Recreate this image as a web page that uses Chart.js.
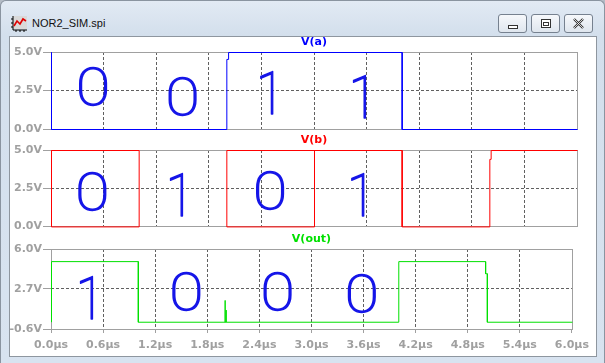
<!DOCTYPE html>
<html>
<head>
<meta charset="utf-8">
<title>NOR2_SIM.spi</title>
<script src="https://cdn.jsdelivr.net/npm/chart.js@4.4.1/dist/chart.umd.min.js"></script>
<style>
html, body { margin: 0; padding: 0; }
body { width: 605px; height: 363px; overflow: hidden; position: relative; background: #b4bcc6; }
#win { position: absolute; left: 0; top: 0; width: 603px; height: 363px; border: 1px solid #8a94a0; border-bottom: none;
       border-radius: 6px 6px 0 0; background: linear-gradient(#e2eaf4 0, #d3dfec 34px, #d8e3f0 100%); }
#icon { position: absolute; left: 10px; top: 14px; }
#caption { position: absolute; left: 31px; top: 16px; font: 11px "Liberation Sans", Arial, sans-serif; color: #111; }
.btn { position: absolute; top: 13px; width: 27px; height: 17px; border: 1px solid #76818f; border-radius: 3px;
       background: linear-gradient(#f6f8fb, #dfe6ee); }
.btn svg { position: absolute; left: 0; top: 0; }
#client { position: absolute; left: 8px; top: 35px; width: 586px; height: 319px; border: 1px solid #8e969f; background: #fff; }
canvas { position: absolute; left: 10px; }
</style>
</head>
<body>
<div id="win">
  <svg id="icon" width="17" height="17" viewBox="0 0 17 17">
    <rect x="2" y="1" width="14" height="13" fill="#d9d9d9"/>
    <path d="M2 1 V15 H16" stroke="#000" stroke-width="1" fill="none"/>
    <path d="M0 4 H2 M0 8 H2 M0 12 H2 M5 15 V17 M9 15 V17 M13 15 V17" stroke="#000" stroke-width="1"/>
    <path d="M3 11 L6 6 L9 9 L12 4 L15 6" stroke="#e00000" stroke-width="1.6" fill="none"/>
  </svg>
  <div id="caption">NOR2_SIM.spi</div>
  <div class="btn" style="left:497px"><svg width="27" height="17"><rect x="9.5" y="10.5" width="9" height="3" fill="#fff" stroke="#333"/></svg></div>
  <div class="btn" style="left:530px"><svg width="27" height="17"><rect x="9.5" y="4.5" width="9" height="8" fill="#fff" stroke="#333"/><rect x="11.5" y="7.5" width="5" height="3" fill="#fff" stroke="#333"/></svg></div>
  <div class="btn" style="left:563px"><svg width="27" height="17"><path d="M9 4 L18 13 M18 4 L9 13" stroke="#333" stroke-width="2.4"/><path d="M9 4 L18 13 M18 4 L9 13" stroke="#fff" stroke-width="0.8"/></svg></div>
  <div id="client"></div>
</div>
<canvas id="paneA" width="585" height="101" style="top:36px"></canvas>
<canvas id="paneB" width="585" height="104" style="top:130px"></canvas>
<canvas id="paneOut" width="585" height="129" style="top:226px"></canvas>
<script>
// eixo do tempo (µs)
const timeTicks = [0, 0.6, 1.2, 1.8, 2.4, 3.0, 3.6, 4.2, 4.8, 5.4, 6.0];
const timeLabels = ['0.0µs', '0.6µs', '1.2µs', '1.8µs', '2.4µs', '3.0µs', '3.6µs', '4.2µs', '4.8µs', '5.4µs', '6.0µs'];

// eixos de tensão
const inTicks = [0, 2.5, 5.0];
const inLabels = ['0.0V', '2.5V', '5.0V'];
const outTicks = [-0.6, 2.7, 6.0];
const outLabels = ['-0.6V', '2.7V', '6.0V'];

// V(a)
const aTime = [0, 0, 2.0, 2.0, 2.02, 2.02, 4.0, 4.0, 6.0];
const aVolts = [5, 0, 0, 4.55, 4.55, 5, 5, 0, 0];

// V(b) - traço como aparece na tela
const bTime = [1.0, 0, 0, 1.0, 1.0, 2.0, 3.0, 3.0, 2.0, 2.0, 4.0, 4.0, 5.0, 5.0, 5.015, 5.015, 6.0];
const bVolts = [5, 5, 0, 0, 5, null, 5, 0, 0, 5, 5, 0, 0, 4.42, 4.42, 5, 5];

// V(out)
const outTime = [0, 0, 1.0, 1.0, 2.0, 2.0, 2.0, 2.012, 2.012, 2.012, 4.0, 4.0, 5.0, 5.0, 5.02, 5.02, 6.0];
const outVolts = [0, 5, 5, 0, 0, 1.8, 0, 0, 1.0, 0, 0, 5, 5, 4.0, 4.0, 0, 0];

// anotações à mão (dígitos lógicos)
const aNotes = ['0', '0', '1', '1'];
const aNoteTime = [0.48, 1.5, 2.5, 3.56];
const aNoteVolts = [2.73, 2.08, 2.34, 2.08];
const bNotes = ['0', '1', '0', '1'];
const bNoteTime = [0.47, 1.47, 2.5, 3.54];
const bNoteVolts = [2.27, 2.08, 2.34, 2.08];
const outNotes = ['1', '0', '0', '0'];
const outNoteTime = [0.45, 1.56, 2.61, 3.58];
const outNoteVolts = [1.97, 2.47, 2.47, 2.3];

const tickFont = { family: '"DejaVu Sans"', size: 11, weight: 'bold' };
const tickGray = '#a0a0a0';

function gridColor(ctx) {
    const n = ctx.scale.ticks.length;
    return (ctx.index === 0 || ctx.index === n - 1) ? 'rgba(0,0,0,0)' : '#606060';
}

const panePlugin = {
    id: 'pane',
    beforeDatasetsDraw(chart) {
        const { ctx, chartArea: a } = chart;
        ctx.save();
        ctx.strokeStyle = tickGray;
        ctx.lineWidth = 1;
        ctx.strokeRect(Math.round(a.left) + 0.5, Math.round(a.top) + 0.5,
            Math.round(a.right) - Math.round(a.left), Math.round(a.bottom) - Math.round(a.top));
        ctx.restore();
        ctx.save();
        ctx.translate(0.5, 0.5);
    },
    afterDatasetsDraw(chart, args, opts) {
        const { ctx, chartArea: a, scales } = chart;
        ctx.restore();

        ctx.save();
        ctx.font = 'bold 11px "DejaVu Sans"';
        ctx.fillStyle = opts.color;
        ctx.textAlign = 'center';
        ctx.textBaseline = 'middle';
        ctx.fillText(opts.title, (a.left + a.right) / 2, a.top - 9.5);

        // dígitos escritos à mão
        ctx.font = '100 52px Roboto';
        ctx.fillStyle = '#1515e8';
        ctx.strokeStyle = '#1515e8';
        ctx.lineWidth = 1.3;
        ctx.lineJoin = 'round';
        ctx.textBaseline = 'alphabetic';
        opts.notes.forEach((d, i) => {
            const x = scales.x.getPixelForValue(opts.noteTime[i]);
            const y = scales.y.getPixelForValue(opts.noteVolts[i]);
            ctx.save();
            ctx.translate(x, y);
            if (d === '0') ctx.scale(1.2, 1.0); else ctx.scale(1.0, 1.15);
            ctx.fillText(d, 0, 0.71 * 52 / 2);
            ctx.strokeText(d, 0, 0.71 * 52 / 2);
            ctx.restore();
        });
        ctx.restore();
    }
};

function makePane(id, times, volts, color, title, yMin, yMax, yTicks, yLabels, notes, noteTime, noteVolts, showX, padTop, padBottom) {
    const ctx = document.getElementById(id).getContext('2d');
    return new Chart(ctx, {
        type: 'line',
        data: {
            datasets: [{
                label: title,
                data: times.map((t, i) => ({ x: t, y: volts[i] })),
                borderColor: color,
                borderWidth: 1,
                pointRadius: 0,
                tension: 0,
                fill: false,
                clip: false
            }]
        },
        options: {
            responsive: false,
            animation: false,
            events: [],
            layout: { padding: { left: 0, right: 18, top: padTop, bottom: padBottom } },
            plugins: {
                legend: { display: false },
                tooltip: { enabled: false },
                pane: { title: title, color: color, notes: notes, noteTime: noteTime, noteVolts: noteVolts }
            },
            scales: {
                x: {
                    type: 'linear',
                    min: 0,
                    max: 6,
                    afterBuildTicks: s => { s.ticks = timeTicks.map(v => ({ value: v })); },
                    afterFit: s => { s.height = showX ? 26 : 0; },
                    ticks: {
                        display: showX,
                        autoSkip: false,
                        maxRotation: 0,
                        padding: 6,
                        font: tickFont,
                        color: tickGray,
                        callback: (v, i) => timeLabels[i]
                    },
                    grid: { color: gridColor, drawTicks: showX, tickLength: 4, tickColor: tickGray },
                    border: { display: false, dash: [3, 2] }
                },
                y: {
                    min: yMin,
                    max: yMax,
                    afterBuildTicks: s => { s.ticks = yTicks.map(v => ({ value: v })); },
                    afterFit: s => { s.width = 41; },
                    ticks: {
                        padding: 1,
                        font: tickFont,
                        color: tickGray,
                        callback: (v, i) => yLabels[i]
                    },
                    grid: { color: gridColor, tickLength: 8, tickColor: tickGray },
                    border: { display: false, dash: [3, 2] }
                }
            }
        },
        plugins: [panePlugin]
    });
}

makePane('paneA', aTime, aVolts, '#0000ff', 'V(a)', 0, 5, inTicks, inLabels,
    aNotes, aNoteTime, aNoteVolts, false, 16, 8);
makePane('paneB', bTime, bVolts, '#ff0000', 'V(b)', 0, 5, inTicks, inLabels,
    bNotes, bNoteTime, bNoteVolts, false, 20, 7);
makePane('paneOut', outTime, outVolts, '#00e000', 'V(out)', -0.6, 6.0, outTicks, outLabels,
    outNotes, outNoteTime, outNoteVolts, true, 23, 0);
</script>
</body>
</html>
